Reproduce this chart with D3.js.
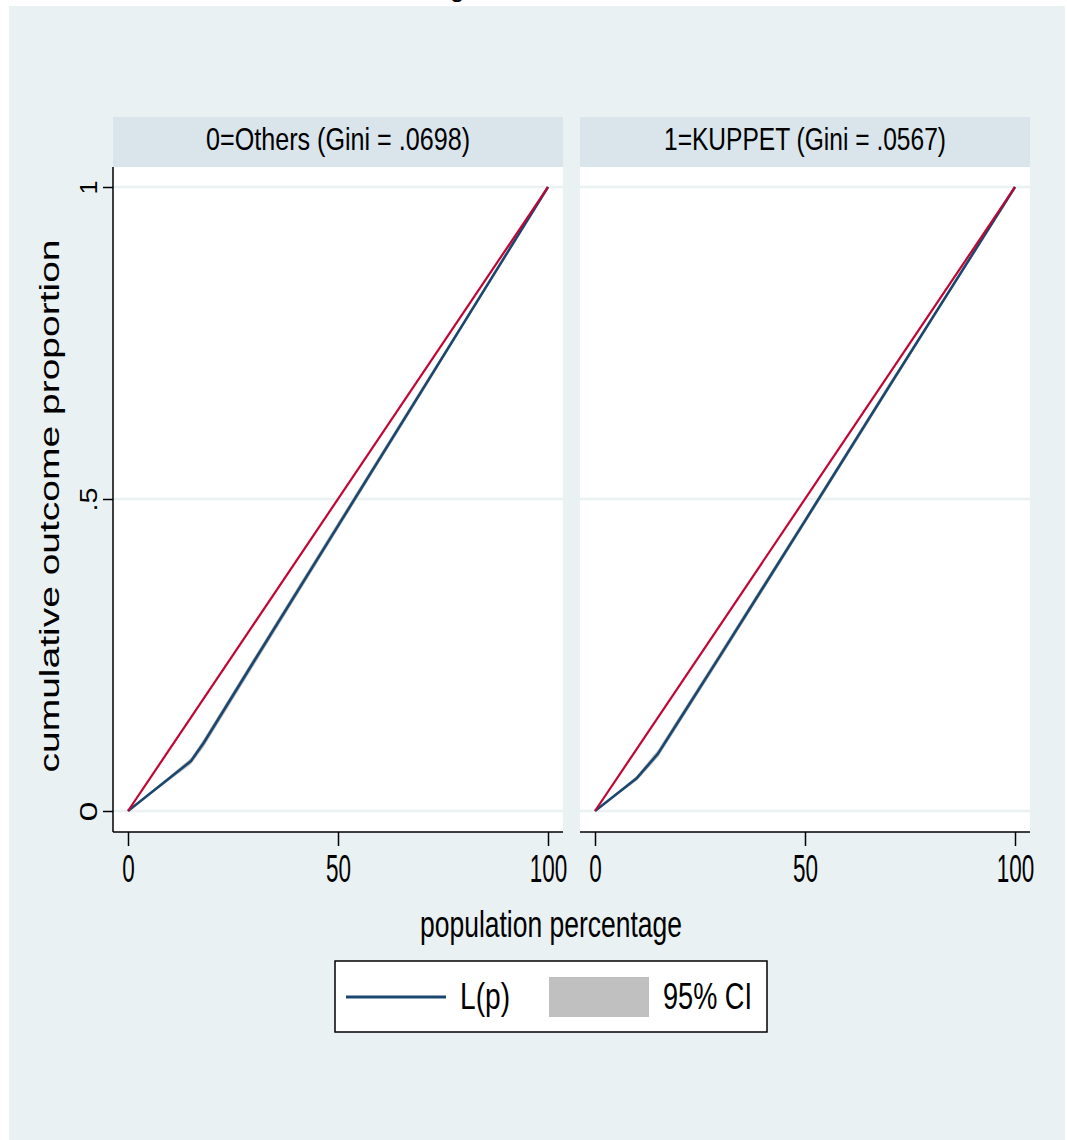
<!DOCTYPE html>
<html><head><meta charset="utf-8">
<script src="https://cdn.jsdelivr.net/npm/d3@7"></script>
<style>html,body{margin:0;padding:0;background:#fff;} svg{display:block;} text{font-family:"Liberation Sans",Arial,sans-serif;fill:#000;}</style>
</head><body>
<script>
// ---- data ----
const panelTitles = ["0=Others (Gini = .0698)", "1=KUPPET (Gini = .0567)"];
const popOthers = [0, 15, 18, 30, 50, 70, 100];
const lpOthers  = [0, 0.080, 0.109, 0.240, 0.457, 0.674, 1];
const loOthers  = [0, 0.075, 0.102, 0.233, 0.451, 0.669, 1];
const hiOthers  = [0, 0.085, 0.115, 0.246, 0.463, 0.679, 1];
const popKuppet = [0, 10, 15, 20, 30, 50, 70, 100];
const lpKuppet  = [0, 0.053, 0.092, 0.145, 0.251, 0.465, 0.680, 1];
const loKuppet  = [0, 0.049, 0.086, 0.139, 0.245, 0.460, 0.675, 1];
const hiKuppet  = [0, 0.057, 0.098, 0.151, 0.257, 0.470, 0.685, 1];
const equality  = [[0, 0], [100, 1]];
const xTicks = [0, 50, 100];
const yTicks = [0, 0.5, 1];
const yTickLabels = ["0", ".5", "1"];
const legendLabels = ["L(p)", "95% CI"];

const W = 1067, H = 1140;
const svg = d3.select("body").append("svg").attr("width", W).attr("height", H);
svg.append("rect").attr("x", 0).attr("y", 0).attr("width", W).attr("height", H).attr("fill", "#fff");
svg.append("rect").attr("x", 9).attr("y", 6).attr("width", 1056).attr("height", H - 6).attr("fill", "#eaf1f3");
// cut-off title glyph at the very top
svg.append("text").attr("x", 450).attr("y", -3).attr("font-size", 26).text("g");

const NAVY = "#1a476f", RED = "#c10534", BAND = "#c0c0c0", GRID = "#eaf1f3", HEAD = "#d9e5eb";

const y = d3.scaleLinear().domain([0, 1]).range([811, 187]);
const panels = [
  {title: panelTitles[0], x0: 113, x1: 563, xr: [128, 548], pop: popOthers, lp: lpOthers, lo: loOthers, hi: hiOthers, tl: 264, leftAxis: true},
  {title: panelTitles[1], x0: 580, x1: 1030, xr: [595, 1015], pop: popKuppet, lp: lpKuppet, lo: loKuppet, hi: hiKuppet, tl: 282, leftAxis: false}
];
const plotTop = 167, plotBot = 832;

panels.forEach(p => {
  const g = svg.append("g");
  const x = d3.scaleLinear().domain([0, 100]).range(p.xr);
  // header
  g.append("rect").attr("x", p.x0).attr("y", 117).attr("width", p.x1 - p.x0).attr("height", 50).attr("fill", HEAD);
  g.append("text").attr("x", (p.x0 + p.x1) / 2).attr("y", 150).attr("text-anchor", "middle")
    .attr("font-size", 32).attr("textLength", p.tl).attr("lengthAdjust", "spacingAndGlyphs").text(p.title);
  // plot area
  g.append("rect").attr("x", p.x0).attr("y", plotTop).attr("width", p.x1 - p.x0).attr("height", plotBot - plotTop).attr("fill", "#fff");
  // grid
  g.selectAll("line.grid").data(yTicks).join("line").attr("class", "grid")
    .attr("x1", p.x0).attr("x2", p.x1).attr("y1", d => y(d)).attr("y2", d => y(d))
    .attr("stroke", GRID).attr("stroke-width", 2.5);
  // CI band
  const bandData = p.pop.map((v, i) => ({x: v, lo: p.lo[i], hi: p.hi[i]}));
  g.append("path").datum(bandData)
    .attr("d", d3.area().x(d => x(d.x)).y0(d => y(d.lo)).y1(d => y(d.hi)))
    .attr("fill", BAND);
  // L(p)
  const lpData = p.pop.map((v, i) => [v, p.lp[i]]);
  g.append("path").datum(lpData)
    .attr("d", d3.line().x(d => x(d[0])).y(d => y(d[1])))
    .attr("fill", "none").attr("stroke", NAVY).attr("stroke-width", 2.6).attr("stroke-linejoin", "round");
  // equality line
  g.append("path").datum(equality)
    .attr("d", d3.line().x(d => x(d[0])).y(d => y(d[1])))
    .attr("fill", "none").attr("stroke", RED).attr("stroke-width", 2.2);
  // x axis
  const xa = g.append("g").attr("transform", `translate(0,${plotBot})`)
    .call(d3.axisBottom(x).tickValues(xTicks).tickSize(14).tickSizeOuter(0).tickFormat(d3.format("d")));
  xa.select(".domain").remove();
  xa.selectAll(".tick line").attr("stroke", "#000").attr("stroke-width", 1.5);
  xa.selectAll(".tick text").remove();
  xa.selectAll(".tick").append("text").attr("y", 50).attr("text-anchor", "middle")
    .attr("font-size", 39).attr("lengthAdjust", "spacingAndGlyphs")
    .attr("textLength", d => String(d).length * 12.5).text(d => d)
    .style("font-family", '"Liberation Sans",Arial,sans-serif').attr("fill", "#000");
  g.append("line").attr("x1", p.x0).attr("x2", p.x1).attr("y1", plotBot).attr("y2", plotBot)
    .attr("stroke", "#000").attr("stroke-width", 1.5);
  if (p.leftAxis) {
    const ya = g.append("g").attr("transform", `translate(${p.x0},0)`)
      .call(d3.axisLeft(y).tickValues(yTicks).tickSize(10).tickSizeOuter(0));
    ya.select(".domain").remove();
    ya.selectAll(".tick line").attr("stroke", "#000").attr("stroke-width", 1.5);
    ya.selectAll(".tick text").remove();
    ya.selectAll(".tick").append("text")
      .attr("transform", "translate(-16,0) rotate(-90)")
      .attr("text-anchor", "middle").attr("font-size", 23)
      .attr("lengthAdjust", "spacingAndGlyphs")
      .attr("textLength", (d, i) => [20, 24, 14][i])
      .text((d, i) => yTickLabels[i])
      .style("font-family", '"Liberation Sans",Arial,sans-serif').attr("fill", "#000");
    g.append("line").attr("x1", p.x0).attr("x2", p.x0).attr("y1", plotTop).attr("y2", plotBot)
      .attr("stroke", "#000").attr("stroke-width", 1.5);
  }
});

// axis titles
svg.append("text").attr("x", 551).attr("y", 937).attr("text-anchor", "middle")
  .attr("font-size", 37).attr("textLength", 262).attr("lengthAdjust", "spacingAndGlyphs")
  .text("population percentage");
svg.append("text").attr("transform", "translate(59,506) rotate(-90)").attr("text-anchor", "middle")
  .attr("font-size", 27).attr("textLength", 533).attr("lengthAdjust", "spacingAndGlyphs")
  .text("cumulative outcome proportion");

// legend
const lg = svg.append("g");
lg.append("rect").attr("x", 335).attr("y", 961).attr("width", 432).attr("height", 71)
  .attr("fill", "#fff").attr("stroke", "#000").attr("stroke-width", 1.5);
lg.append("line").attr("x1", 346).attr("x2", 446).attr("y1", 997).attr("y2", 997)
  .attr("stroke", NAVY).attr("stroke-width", 3);
lg.append("text").attr("x", 460).attr("y", 1009).attr("font-size", 37)
  .attr("textLength", 50).attr("lengthAdjust", "spacingAndGlyphs").text(legendLabels[0]);
lg.append("rect").attr("x", 549).attr("y", 977).attr("width", 100).attr("height", 40).attr("fill", BAND);
lg.append("text").attr("x", 663).attr("y", 1009).attr("font-size", 37)
  .attr("textLength", 89).attr("lengthAdjust", "spacingAndGlyphs").text(legendLabels[1]);
</script>
</body></html>
